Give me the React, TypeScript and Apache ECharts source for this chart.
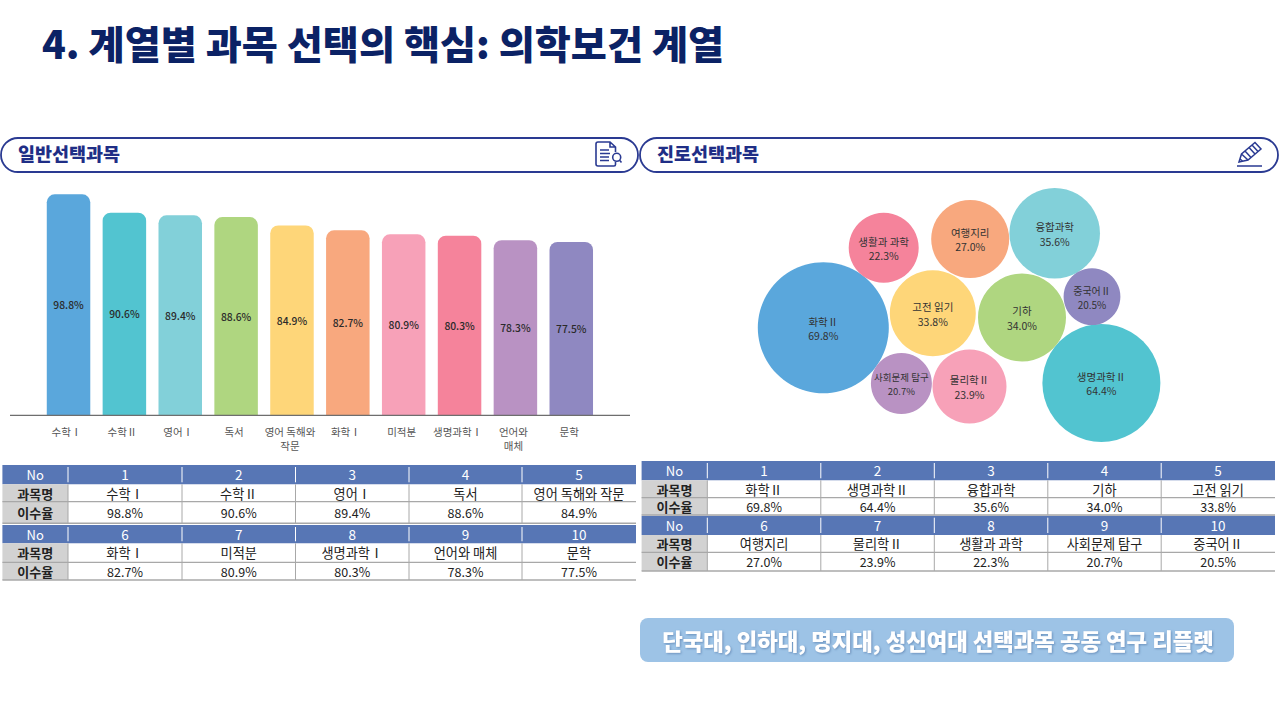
import React, { useEffect, useRef } from "react";
import * as echarts from "echarts";

const titleText = "4. 계열별 과목 선택의 핵심: 의학보건 계열";
const footerText = "단국대, 인하대, 명지대, 성신여대 선택과목 공동 연구 리플렛";
const leftHeading = "일반선택과목";
const rightHeading = "진로선택과목";

const generalSubjects = ["수학Ⅰ", "수학Ⅱ", "영어Ⅰ", "독서", "영어 독해와 작문", "화학Ⅰ", "미적분", "생명과학Ⅰ", "언어와 매체", "문학"];
const generalTicks = ["수학Ⅰ", "수학Ⅱ", "영어Ⅰ", "독서", "영어 독해와\n작문", "화학Ⅰ", "미적분", "생명과학Ⅰ", "언어와\n매체", "문학"];
const generalRates = [98.8, 90.6, 89.4, 88.6, 84.9, 82.7, 80.9, 80.3, 78.3, 77.5];

const careerSubjects = ["화학Ⅱ", "생명과학Ⅱ", "융합과학", "기하", "고전 읽기", "여행지리", "물리학Ⅱ", "생활과 과학", "사회문제 탐구", "중국어Ⅱ"];
const careerRates = [69.8, 64.4, 35.6, 34.0, 33.8, 27.0, 23.9, 22.3, 20.7, 20.5];
// The packed-bubble layout has no data meaning: these are read from the picture, in hidden-axis units.
const bubbleX = [183.3, 461.4, 414.7, 382, 292.8, 330.2, 329.5, 243.7, 261.4, 452];
const bubbleY = [147.8, 203, 53.3, 137.5, 133.3, 59, 206.5, 67.7, 203.5, 116.7];
const bubbleDiameter = [131, 118, 90.6, 88, 86, 78, 74, 70, 61, 56.8];
const bubbleLabelSize = [10.5, 10.5, 10.5, 10.5, 10.5, 10.5, 10.5, 10.5, 9.5, 10];

const barColors = ["#5AA7DC", "#52C4D0", "#82D0D9", "#AFD680", "#FED679", "#F8A87E", "#F7A1B8", "#F5839B", "#B992C3", "#8F88C1"];
const bubbleColors = ["#5AA7DC", "#52C4D0", "#82D0D9", "#AFD680", "#FED679", "#F8A87E", "#F7A1B8", "#F5839B", "#B992C3", "#8F88C1"];

const FONT = '"Noto Sans CJK KR", "Noto Sans", sans-serif';
const NAVY = "#2A3A92";
const pct = (v: number) => v.toFixed(1) + "%";

echarts.graphic.registerShape(
  "docIcon",
  echarts.graphic.extendPath(
    "M20.5 11 V6 L15 1 H3 Q1 1 1 3 V23 Q1 25 3 25 H19 Q20.5 25 20.5 23.5 V21 M15 1 V6 H20.5 M5 9 H14 M5 12.5 H15 M5 16 H14 M5 19.5 H14 M17.7 16.3 A4 4 0 1 1 25.7 16.3 A4 4 0 1 1 17.7 16.3 M24.6 19.2 L26.5 21.5",
    {}
  )
);
echarts.graphic.registerShape(
  "pencilIcon",
  echarts.graphic.extendPath(
    "M2 21 L4.5 13 L18 1.5 L24 8 L11 19 Z M4.5 13 L11 19 M8 10 L14 16.5 M12 6.5 L18 13 M15 4 L21 10.5 M2.5 17.5 L6 20.5 M0 25 H25",
    {}
  )
);

type TableBox = { colX: number[]; rowY: number[] };

function tableElements(box: TableBox, subjects: string[], rates: number[]) {
  const { colX, rowY } = box;
  const out: any[] = [];
  const cellText = (x0: number, x1: number, y0: number, y1: number, text: string, fill: string, bold = false, size = 12.5) => ({
    type: "text",
    z: 5,
    style: { x: (x0 + x1) / 2, y: (y0 + y1) / 2, text, fill, align: "center", verticalAlign: "middle", font: `${bold ? 700 : 400} ${size}px ${FONT}` },
  });
  const rect = (x: number, y: number, w: number, h: number, fill: string) => ({ type: "rect", z: 2, shape: { x, y, width: w, height: h }, style: { fill } });
  const line = (x1: number, y1: number, x2: number, y2: number, stroke: string, lineWidth: number) => ({
    type: "line",
    z: 3,
    shape: { x1, y1, x2, y2 },
    style: { stroke, lineWidth },
  });
  const left = colX[0];
  const right = colX[colX.length - 1];
  [0, 1].forEach((block) => {
    const y0 = rowY[block * 3 + block];
    const y1 = rowY[block * 3 + block + 1];
    const y2 = rowY[block * 3 + block + 2];
    const y3 = rowY[block * 3 + block + 3];
    out.push(rect(left, y0, right - left, y1 - y0, "#5776B5"));
    out.push(rect(left, y1, colX[1] - left, y3 - y1, "#D2D2D2"));
    out.push(line(left, y2, right, y2, "#A8A8A8", 1.2));
    out.push(line(left, y3, right, y3, "#A8A8A8", 1.6));
    out.push(cellText(left, colX[1], y0, y1, "No", "#FFFFFF", false, 13));
    out.push(cellText(left, colX[1], y1, y2, "과목명", "#222222", true, 13));
    out.push(cellText(left, colX[1], y2, y3, "이수율", "#222222", true, 13));
    for (let c = 0; c < 5; c++) {
      const i = block * 5 + c;
      const a = colX[c + 1];
      const b = colX[c + 2];
      out.push(line(a, y0 + 2, a, y1 - 2, "#FFFFFF", 1));
      out.push(line(a, y1, a, y3, "#A8A8A8", 1));
      out.push(cellText(a, b, y0, y1 - 1, String(i + 1), "#FFFFFF", false, 13.5));
      out.push(cellText(a, b, y1, y2, subjects[i], "#222222", false, 13.2));
      out.push(cellText(a, b, y2, y3, pct(rates[i]), "#222222", false, 12.5));
    }
  });
  return out;
}

function headingElements(x: number, width: number, text: string) {
  return [
    {
      type: "rect",
      z: 1,
      shape: { x, y: 138, width, height: 34, r: 17 },
      style: { fill: "#FFFFFF", stroke: NAVY, lineWidth: 1.8 },
    },
    {
      type: "text",
      z: 2,
      style: { x: x + 17, y: 153, text, fill: "#1F2E86", align: "left", verticalAlign: "middle", font: `900 18.5px ${FONT}` },
    },
  ];
}

const leftTable: TableBox = {
  colX: [2.4, 68, 182, 295.5, 409, 522, 636],
  rowY: [465, 484.3, 501.7, 523.3, 525, 543.3, 562.3, 580],
};
const rightTable: TableBox = {
  colX: [641.6, 707.3, 820.8, 934.3, 1047.8, 1161.2, 1275],
  rowY: [461, 480.3, 497.7, 515, 515.7, 535, 552.3, 571],
};

export default function App() {
  const ref = useRef<HTMLDivElement>(null);
  useEffect(() => {
    const chart = echarts.init(ref.current!, undefined, { renderer: "svg" });
    const option: any = {
      animation: false,
      backgroundColor: "#FFFFFF",
      textStyle: { fontFamily: FONT },
      grid: [
        { left: 40.6, width: 558.6, top: 191.6, height: 223.7 },
        { left: 640, width: 640, top: 180, height: 270 },
      ],
      xAxis: [
        {
          type: "category",
          gridIndex: 0,
          data: generalTicks,
          axisLine: { show: false },
          axisTick: { show: false },
          axisLabel: { interval: 0, margin: 9, fontSize: 10.5, lineHeight: 14, color: "#555555", fontFamily: FONT, padding: [0, 4, 0, 0] },
        },
        { type: "value", gridIndex: 1, min: 0, max: 640, show: false },
      ],
      yAxis: [
        { type: "value", gridIndex: 0, min: 0, max: 100, show: false },
        { type: "value", gridIndex: 1, min: 0, max: 270, inverse: true, show: false },
      ],
      series: [
        {
          type: "bar",
          xAxisIndex: 0,
          yAxisIndex: 0,
          barWidth: 43.5,
          data: generalRates.map((v, i) => ({ value: v, itemStyle: { color: barColors[i], borderRadius: [8, 8, 0, 0] } })),
          label: {
            show: true,
            position: "inside",
            formatter: (p: any) => pct(p.value),
            fontSize: 10.3,
            fontWeight: 500,
            color: "#2A2A2A",
            fontFamily: FONT,
          },
        },
        {
          type: "scatter",
          xAxisIndex: 1,
          yAxisIndex: 1,
          clip: false,
          symbol: "circle",
          symbolSize: (_v: any, p: any) => bubbleDiameter[p.dataIndex],
          data: careerSubjects.map((name, i) => ({
            name,
            value: [bubbleX[i], bubbleY[i], careerRates[i]],
            itemStyle: { color: bubbleColors[i], opacity: 1 },
            label: { fontSize: bubbleLabelSize[i] },
          })),
          label: {
            show: true,
            position: "inside",
            offset: [0, 0.7],
            formatter: (p: any) => `${p.name}\n${pct(p.value[2])}`,
            fontSize: 10.5,
            lineHeight: 14.5,
            color: "#333333",
            fontFamily: FONT,
          },
        },
      ],
      graphic: {
        elements: [
          {
            type: "text",
            style: { x: 42, y: 42, text: titleText, fill: "#0B2265", align: "left", verticalAlign: "middle", font: `900 39.2px ${FONT}` },
          },
          ...headingElements(1, 637, leftHeading),
          ...headingElements(640, 638, rightHeading),
          { type: "docIcon", z: 3, x: 595, y: 141, style: { fill: "none", stroke: NAVY, lineWidth: 1.6 } },
          { type: "pencilIcon", z: 3, x: 1237, y: 141, style: { fill: "none", stroke: NAVY, lineWidth: 1.5 } },
          { type: "line", z: 4, shape: { x1: 10, y1: 415.3, x2: 630, y2: 415.3 }, style: { stroke: "#6E6E6E", lineWidth: 1.2 } },
          ...tableElements(leftTable, generalSubjects, generalRates),
          ...tableElements(rightTable, careerSubjects, careerRates),
          { type: "rect", shape: { x: 640, y: 618, width: 594, height: 44, r: 8 }, style: { fill: "#9DC3E6" } },
          {
            type: "text",
            z: 2,
            style: {
              x: 938,
              y: 640,
              text: footerText,
              fill: "#FFFFFF",
              align: "center",
              verticalAlign: "middle",
              font: `900 22.3px ${FONT}`,
              textShadowColor: "rgba(70,110,160,0.6)",
              textShadowBlur: 2,
              textShadowOffsetX: 1,
              textShadowOffsetY: 1,
            },
          },
        ],
      },
    };
    chart.setOption(option);
    return () => chart.dispose();
  }, []);
  return <div ref={ref} style={{ position: "absolute", left: 0, top: 0, width: 1280, height: 720 }} />;
}
